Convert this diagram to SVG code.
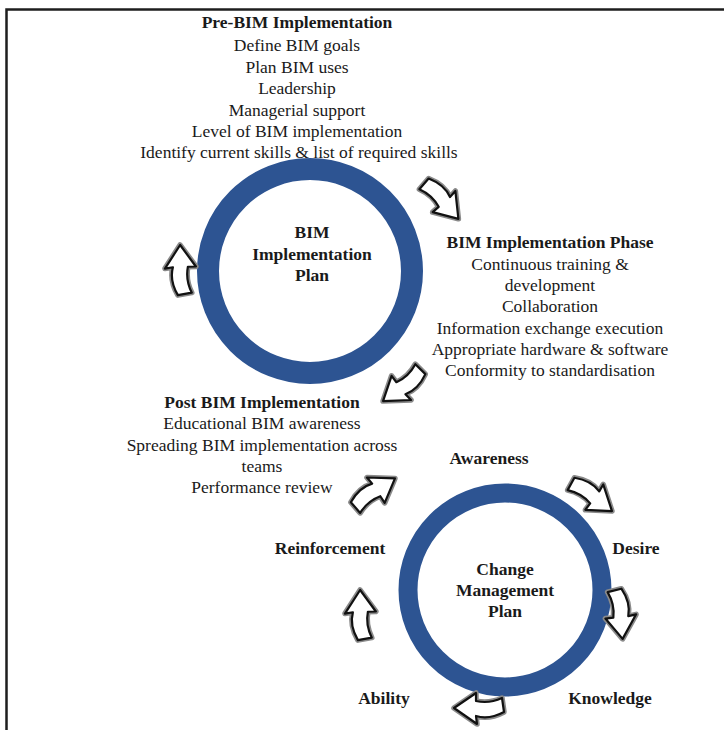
<svg xmlns="http://www.w3.org/2000/svg" xmlns:xlink="http://www.w3.org/1999/xlink" width="724" height="730" viewBox="0 0 724 730">
<style>
.t{font-family:"Liberation Serif","Times New Roman",serif;font-size:17.5px;fill:#1a1a1a;text-anchor:middle}
.b{font-weight:bold}
.ring{fill:none;stroke:#2d5492}
.frame{stroke:#1e1e1e;stroke-width:2.5;fill:none}
</style>
<defs>
<g id="arr">
<path d="M -25,-4 Q -10,-12 3,-8 L 2,-16 L 25,0 L 3,15 L 3,7 Q -10,4 -23,10 Z" fill="none" stroke="#8a8a8a" stroke-width="5.5" stroke-linejoin="round"/>
<path d="M -25,-4 Q -10,-12 3,-8 L 2,-16 L 25,0 L 3,15 L 3,7 Q -10,4 -23,10 Z" fill="#fff" stroke="#111" stroke-width="2.2" stroke-linejoin="round"/>
</g>
</defs>
<path class="frame" d="M 6.5,730 L 6.5,9.5 L 724,9.5"/>
<g id="bim-ring"><circle class="ring" cx="310" cy="271" r="102" stroke-width="22"/>
<text class="t b" x="312" y="238">BIM</text><text class="t b" x="312" y="260">Implementation</text><text class="t b" x="312" y="281">Plan</text></g>
<g id="change-ring"><circle class="ring" cx="505" cy="590" r="97" stroke-width="19"/>
<text class="t b" x="505" y="575">Change</text><text class="t b" x="505" y="596">Management</text><text class="t b" x="505" y="617">Plan</text></g>
<g id="pre-bim">
<text class="t b" x="297" y="28">Pre-BIM Implementation</text>
<text class="t" x="297" y="51">Define BIM goals</text>
<text class="t" x="297" y="73">Plan BIM uses</text>
<text class="t" x="297" y="94">Leadership</text>
<text class="t" x="297" y="116">Managerial support</text>
<text class="t" x="297" y="137">Level of BIM implementation</text>
<text class="t" x="299" y="158">Identify current skills &amp; list of required skills</text>
</g>
<g id="bim-phase">
<text class="t b" x="550" y="248">BIM Implementation Phase</text>
<text class="t" x="550" y="270">Continuous training &amp;</text>
<text class="t" x="550" y="291">development</text>
<text class="t" x="550" y="312">Collaboration</text>
<text class="t" x="550" y="334">Information exchange execution</text>
<text class="t" x="550" y="355">Appropriate hardware &amp; software</text>
<text class="t" x="550" y="376">Conformity to standardisation</text>
</g>
<g id="post-bim">
<text class="t b" x="262" y="408">Post BIM Implementation</text>
<text class="t" x="262" y="429">Educational BIM awareness</text>
<text class="t" x="262" y="451">Spreading BIM implementation across</text>
<text class="t" x="262" y="472">teams</text>
<text class="t" x="262" y="493">Performance review</text>
</g>
<g id="awareness"><text class="t b" x="489" y="464">Awareness</text></g>
<g id="desire"><text class="t b" x="636" y="554">Desire</text></g>
<g id="knowledge"><text class="t b" x="610" y="704">Knowledge</text></g>
<g id="ability"><text class="t b" x="384" y="704">Ability</text></g>
<g id="reinforcement"><text class="t b" x="330" y="554">Reinforcement</text></g>
<g id="connectors">
<use xlink:href="#arr" transform="translate(442,200) rotate(49)"/>
<use xlink:href="#arr" transform="translate(403,386) rotate(143)"/>
<use xlink:href="#arr" transform="translate(181,270) rotate(-92)"/>
<use xlink:href="#arr" transform="translate(374,492) rotate(-33)"/>
<use xlink:href="#arr" transform="translate(592,496) rotate(37)"/>
<use xlink:href="#arr" transform="translate(620,614) rotate(84)"/>
<use xlink:href="#arr" transform="translate(479,708) rotate(180)"/>
<use xlink:href="#arr" transform="translate(361,615) rotate(-92)"/>
</g>
</svg>
